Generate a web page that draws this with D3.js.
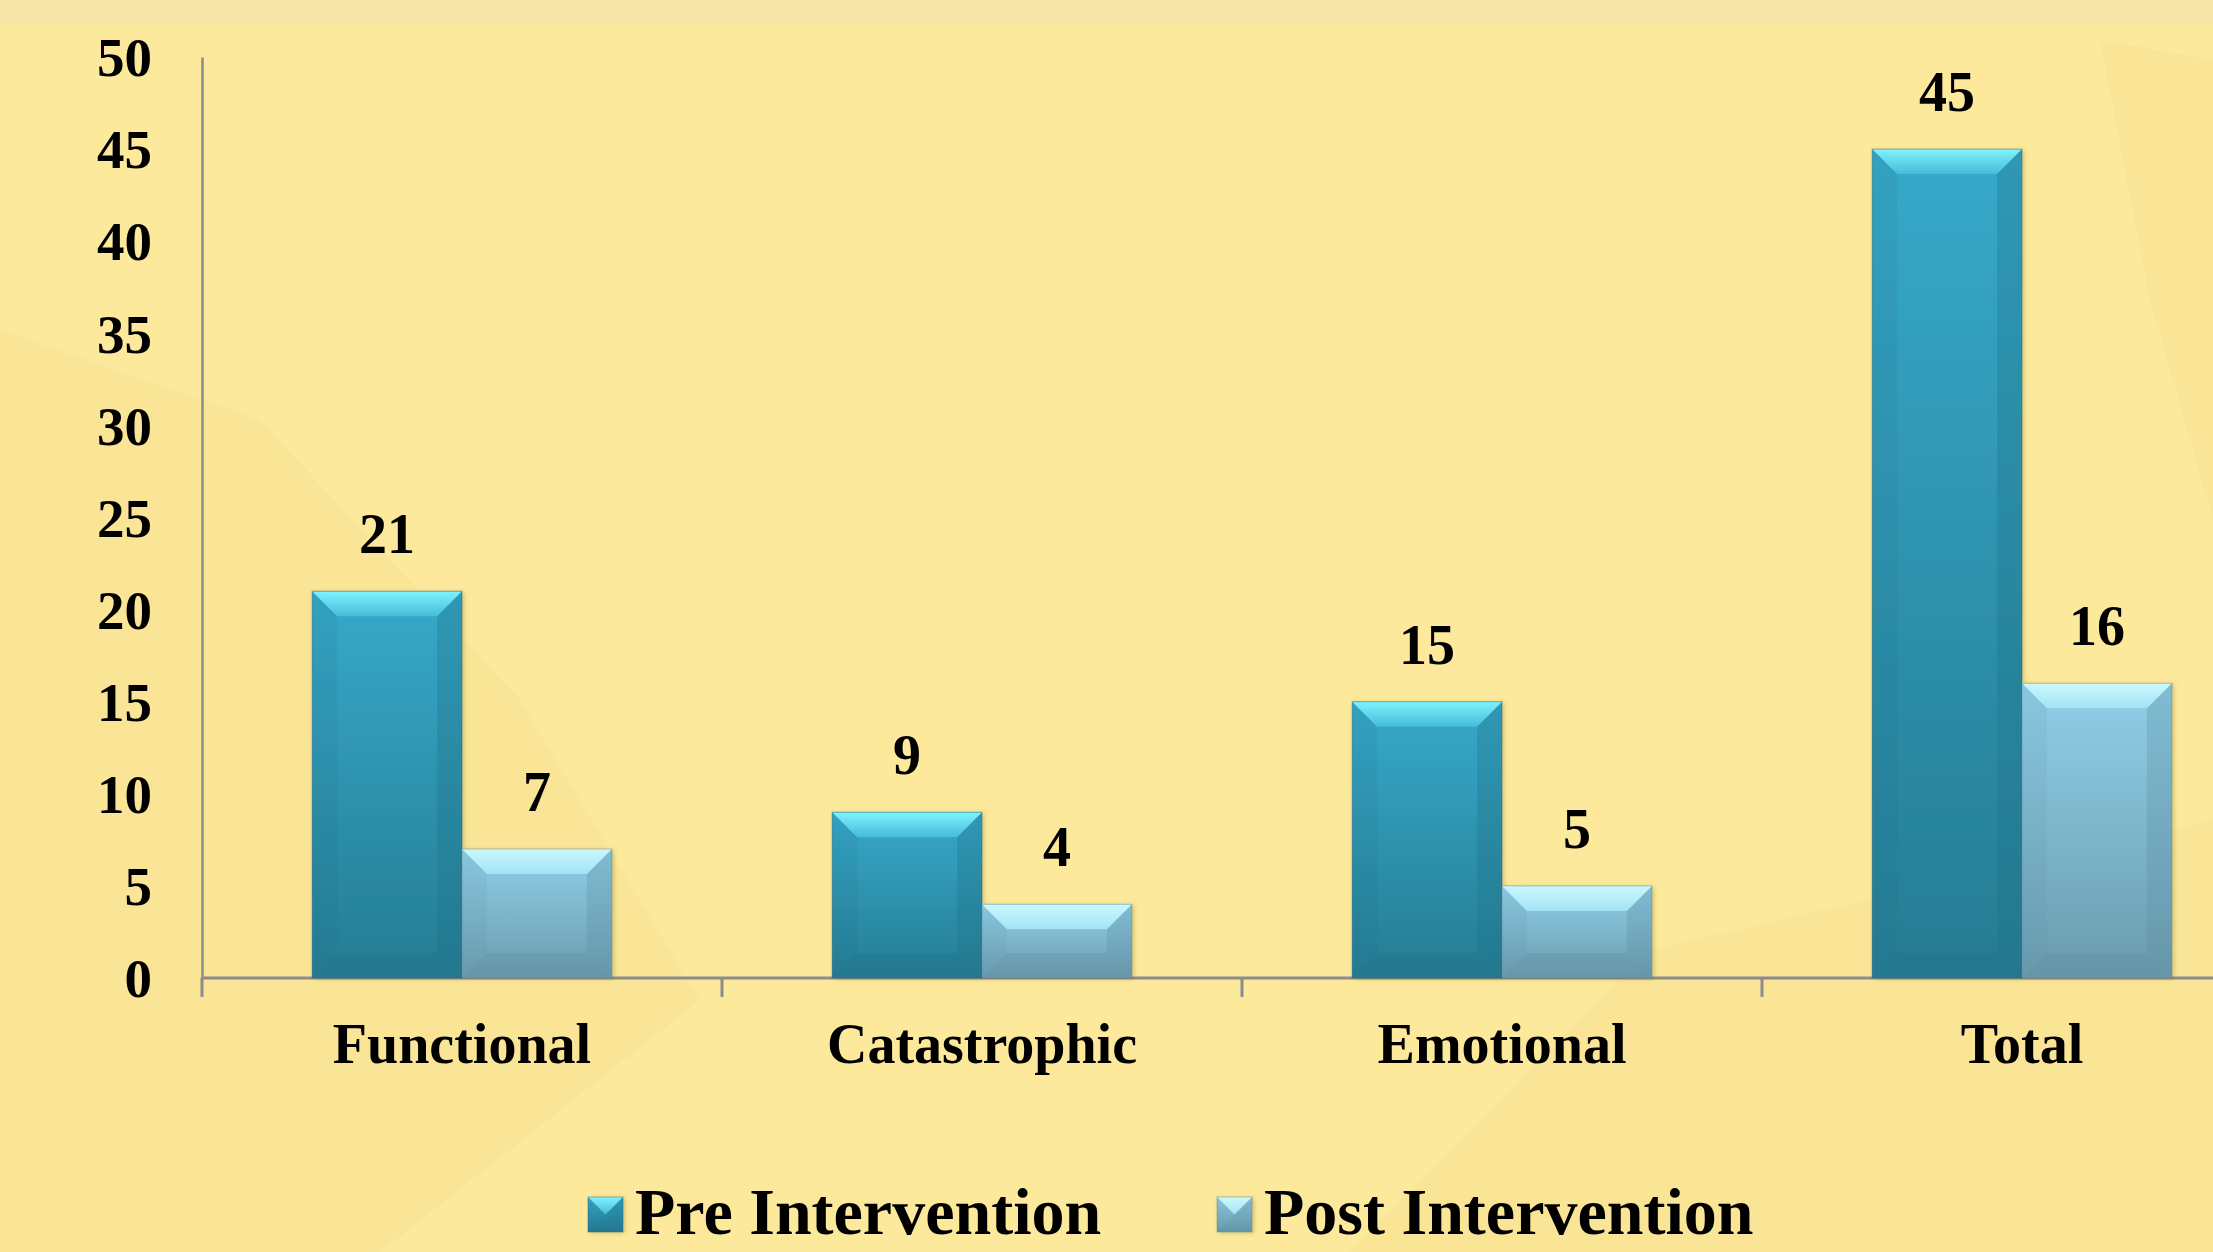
<!DOCTYPE html>
<html>
<head>
<meta charset="utf-8">
<script src="https://cdn.jsdelivr.net/npm/d3@7"></script>
<style>
  html, body { margin: 0; padding: 0; background: #fde99b; overflow: hidden; }
  text { font-family: "Liberation Serif", "Times New Roman", serif; font-weight: bold; fill: #000; }
</style>
</head>
<body>
<div id="chart"></div>
<script>
// data
const categories = ["Functional", "Catastrophic", "Emotional", "Total"];
const series = ["Pre Intervention", "Post Intervention"];
const preValues = [21, 9, 15, 45];
const postValues = [7, 4, 5, 16];
const yTicks = [0, 5, 10, 15, 20, 25, 30, 35, 40, 45, 50];

const width = 2213, height = 1252;
const margin = {top: 57, left: 202, baseline: 978};
const step = 520; // one category slot, last one runs off the right edge

const svg = d3.select("#chart").append("svg")
    .attr("width", width)
    .attr("height", height);

const defs = svg.append("defs");

// colour sets for the two series
const palette = {
    "Pre Intervention":  {top: "#37a9ca", bottom: "#257c93", bevelTop: "#80f3ff", bevelBottom: "#45bcd9", side: "#1f6f85", low: "#1e6a80"},
    "Post Intervention": {top: "#90d0e8", bottom: "#6a9bae", bevelTop: "#cbf9ff", bevelBottom: "#a3e3f4", side: "#5d8ea2", low: "#5a8799"}
};

function addGrad(id, c1, c2) {
    const g = defs.append("linearGradient").attr("id", id)
        .attr("x1", 0).attr("y1", 0).attr("x2", 0).attr("y2", 1);
    g.append("stop").attr("offset", "0%").attr("stop-color", c1);
    g.append("stop").attr("offset", "100%").attr("stop-color", c2);
}
series.forEach((s, i) => {
    const p = palette[s];
    addGrad("body" + i, p.top, p.bottom);
    addGrad("bevel" + i, p.bevelTop, p.bevelBottom);
});

const shadow = defs.append("filter").attr("id", "shadow")
    .attr("x", "-10%").attr("y", "-10%").attr("width", "130%").attr("height", "130%");
shadow.append("feDropShadow").attr("dx", 2).attr("dy", 1).attr("stdDeviation", 2)
    .attr("flood-color", "#6b5a20").attr("flood-opacity", 0.3);

// background: lighter band on top plus faint template shapes
svg.append("rect").attr("width", width).attr("height", height).attr("fill", "#fde99b");
svg.append("path")
    .attr("d", "M0,330 L260,420 L520,700 L700,1000 L380,1252 L0,1252 Z")
    .attr("fill", "#f6df92").attr("opacity", 0.4);
svg.append("path")
    .attr("d", "M1350,1252 L1650,950 L2213,820 L2213,1252 Z")
    .attr("fill", "#f6df92").attr("opacity", 0.4);
svg.append("path")
    .attr("d", "M2100,40 L2213,60 L2213,520 L2150,300 Z")
    .attr("fill", "#f6df92").attr("opacity", 0.45);
svg.append("rect").attr("width", width).attr("height", 26).attr("fill", "#f8e5a8");

// scales
const yScale = d3.scaleLinear()
    .domain([0, 50])
    .range([margin.baseline, margin.top]);

const x0 = d3.scaleBand()
    .domain(categories)
    .range([margin.left, margin.left + step * categories.length]);

const x1 = d3.scaleBand()
    .domain(series)
    .range([0, x0.bandwidth()])
    .paddingOuter(0.735);

const rows = categories.map((c, i) => ({
    category: c,
    values: [
        {series: series[0], idx: 0, value: preValues[i]},
        {series: series[1], idx: 1, value: postValues[i]}
    ]
}));

// y axis: line and labels, no tick marks
const yAxis = d3.axisLeft(yScale).tickValues(yTicks).tickSize(0).tickPadding(50);
const gy = svg.append("g")
    .attr("transform", `translate(${margin.left},0)`)
    .call(yAxis);
gy.select(".domain").attr("stroke", "#8c8c8c").attr("stroke-width", 2.5);
gy.selectAll("text")
    .style("font-size", "55px")
    .attr("dy", "0.34em")
    .attr("fill", "#000");

// x axis with tick marks at category boundaries
const gx = svg.append("g").attr("transform", `translate(0,${yScale(0)})`);
gx.append("line")
    .attr("x1", margin.left).attr("x2", width)
    .attr("stroke", "#8c8c8c").attr("stroke-width", 3);
gx.selectAll("line.tick")
    .data(categories)
    .enter().append("line")
    .attr("class", "tick")
    .attr("x1", d => x0(d)).attr("x2", d => x0(d))
    .attr("y1", 0).attr("y2", 19)
    .attr("stroke", "#8c8c8c").attr("stroke-width", 3);
gx.selectAll("text")
    .data(categories)
    .enter().append("text")
    .attr("x", d => x0(d) + x0.bandwidth() / 2)
    .attr("y", 85)
    .attr("text-anchor", "middle")
    .style("font-size", "56px")
    .text(d => d);

// bevelled bar drawing
function drawBar(g, x, y, w, h, i) {
    const b = Math.min(25, h / 2, w / 2);
    const p = palette[series[i]];
    g.append("rect")
        .attr("x", x).attr("y", y).attr("width", w).attr("height", h)
        .attr("fill", `url(#body${i})`)
        .attr("filter", "url(#shadow)");
    // left side
    g.append("polygon")
        .attr("points", [[x, y], [x + b, y + b], [x + b, y + h - b], [x, y + h]].join(" "))
        .attr("fill", p.side).attr("opacity", 0.12);
    // right side
    g.append("polygon")
        .attr("points", [[x + w, y], [x + w - b, y + b], [x + w - b, y + h - b], [x + w, y + h]].join(" "))
        .attr("fill", p.side).attr("opacity", 0.3);
    // bottom
    g.append("polygon")
        .attr("points", [[x, y + h], [x + b, y + h - b], [x + w - b, y + h - b], [x + w, y + h]].join(" "))
        .attr("fill", p.low).attr("opacity", 0.25);
    // top bevel
    g.append("polygon")
        .attr("points", [[x, y], [x + w, y], [x + w - b, y + b], [x + b, y + b]].join(" "))
        .attr("fill", `url(#bevel${i})`);
    g.append("rect")
        .attr("x", x).attr("y", y).attr("width", w).attr("height", h)
        .attr("fill", "none").attr("stroke", p.low).attr("stroke-opacity", 0.45).attr("stroke-width", 1);
}

const groups = svg.selectAll("g.cat")
    .data(rows)
    .enter().append("g")
    .attr("class", "cat")
    .attr("transform", d => `translate(${x0(d.category)},0)`);

groups.each(function(d) {
    const g = d3.select(this);
    d.values.forEach(v => {
        const bx = x1(v.series);
        const by = yScale(v.value);
        drawBar(g, bx, by, x1.bandwidth(), yScale(0) - by, v.idx);
        g.append("text")
            .attr("x", bx + x1.bandwidth() / 2)
            .attr("y", by - 38)
            .attr("text-anchor", "middle")
            .style("font-size", "56px")
            .text(v.value);
    });
});

// legend
const legendX = [588, 1217];
const legend = svg.selectAll("g.legend")
    .data(series)
    .enter().append("g")
    .attr("class", "legend")
    .attr("transform", (d, i) => `translate(${legendX[i]},1197)`);
legend.each(function(d, i) {
    const g = d3.select(this);
    drawBar(g, 0, 0, 35, 35, i);
    g.append("text")
        .attr("x", 47)
        .attr("y", 37)
        .style("font-size", "66px")
        .text(d);
});
</script>
</body>
</html>
